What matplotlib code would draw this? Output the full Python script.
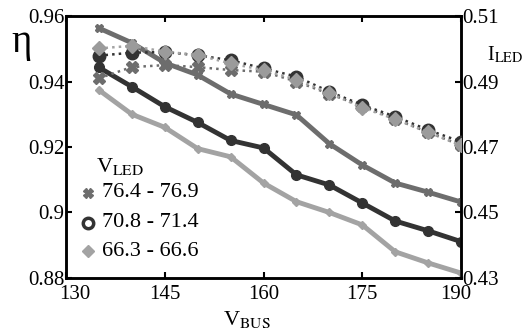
import numpy as np
import matplotlib.pyplot as plt
import matplotlib.transforms as mtransforms

plt.rcParams['font.family'] = ['Liberation Serif', 'DejaVu Serif']
plt.rcParams['mathtext.fontset'] = 'stix'

v_bus = [135, 140, 145, 150, 155, 160, 165, 170, 175, 180, 185, 190]

# efficiency (left axis)
eta_769 = [0.9563, 0.9518, 0.9457, 0.9420, 0.9362, 0.9330, 0.9298, 0.9210, 0.9145, 0.9090, 0.9062, 0.9032]
eta_714 = [0.9443, 0.9384, 0.9323, 0.9275, 0.9220, 0.9197, 0.9115, 0.9084, 0.9029, 0.8974, 0.8944, 0.8911]
eta_666 = [0.9374, 0.9300, 0.9260, 0.9195, 0.9170, 0.9090, 0.9033, 0.9000, 0.8962, 0.8880, 0.8846, 0.8815]

# LED current (right axis)
i_769 = [0.4910, 0.4944, 0.4950, 0.4944, 0.4935, 0.4930, 0.4900, 0.4862, 0.4825, 0.4785, 0.4745, 0.4705]
i_714 = [0.4979, 0.4988, 0.4990, 0.4980, 0.4965, 0.4940, 0.4915, 0.4869, 0.4828, 0.4793, 0.4752, 0.4716]
i_666 = [0.5001, 0.5009, 0.4991, 0.4981, 0.4955, 0.4935, 0.4905, 0.4865, 0.4820, 0.4785, 0.4745, 0.4705]

legend_labels = ['76.4 - 76.9', '70.8 - 71.4', '66.3 - 66.6']

c_mid = '#6d6d6d'
c_dark = '#333333'
c_light = '#a3a3a3'

fig = plt.figure(figsize=(5.22, 3.30), dpi=100)
ax = fig.add_axes([0.1264, 0.1576, 0.7569, 0.7939])
ax2 = ax.twinx()

# dotted current curves
ax2.plot(v_bus, i_769, ':', color=c_mid, lw=1.8, marker='X', ms=8, mec=c_mid, zorder=2)
ax2.plot(v_bus, i_714, ':', color=c_dark, lw=1.8, marker='o', ms=9, mfc=c_dark, mec=c_dark, zorder=3)
ax2.plot(v_bus, i_666, ':', color=c_light, lw=1.8, marker='D', ms=7.5, mfc='#9b9b9b', mec='#9b9b9b', zorder=4)

# solid efficiency curves
ax.plot(v_bus, eta_769, '-', color=c_mid, lw=3.5, marker='X', ms=6, zorder=3)
ax.plot(v_bus, eta_714, '-', color=c_dark, lw=3.5, marker='o', ms=7, zorder=3)
ax.plot(v_bus, eta_666, '-', color=c_light, lw=3.5, marker='D', ms=4, zorder=3)

ax.set_xlim(130, 190)
ax.set_ylim(0.88, 0.96)
ax2.set_ylim(0.43, 0.51)

ax.set_xticks([130, 145, 160, 175, 190])
ax.set_yticks([0.88, 0.9, 0.92, 0.94, 0.96])
ax.set_yticklabels(['0.88', '0.9', '0.92', '0.94', '0.96'])
ax2.set_yticks([0.43, 0.45, 0.47, 0.49, 0.51])
ax2.set_yticklabels(['0.43', '0.45', '0.47', '0.49', '0.51'])

ax.tick_params(axis='y', direction='in', length=4, width=1.5, labelsize=15, pad=1)
ax.tick_params(axis='x', direction='in', length=4, width=1.5, labelsize=15, pad=5, top=True)
ax2.tick_params(axis='y', direction='in', length=4, width=1.5, labelsize=15, pad=1)
for a in (ax, ax2):
    for s in a.spines.values():
        s.set_linewidth(1.8)

# nudge the end x labels inward, as in the original
xl = ax.get_xticklabels()
xl[0].set_transform(xl[0].get_transform() + mtransforms.ScaledTranslation(9 / 100, 0, fig.dpi_scale_trans))
xl[-1].set_transform(xl[-1].get_transform() + mtransforms.ScaledTranslation(-5 / 100, 0, fig.dpi_scale_trans))

# axis labels
fig.text(0.022, 0.87, 'η', fontsize=28, va='center')
fig.text(0.933, 0.835, r'I$_{\rm LED}$', fontsize=14.5, va='center')
fig.text(0.427, 0.015, r'V$_{\rm BUS}$', fontsize=16)

# legend drawn as text
ax.text(134.6, 0.9124, r'V$_{\rm LED}$', fontsize=16)
ax.plot([133.3], [0.9060], 'X', color=c_mid, ms=6.5)
ax.plot([133.3], [0.8968], 'o', mfc='white', mec=c_dark, mew=2.5, ms=7.5)
ax.plot([133.3], [0.8882], 'D', color=c_light, ms=6)
for k, lab in enumerate(legend_labels):
    ax.text(135.4, [0.9060, 0.8968, 0.8882][k], lab, fontsize=16, va='center')

fig.savefig('out.png', dpi=100)
